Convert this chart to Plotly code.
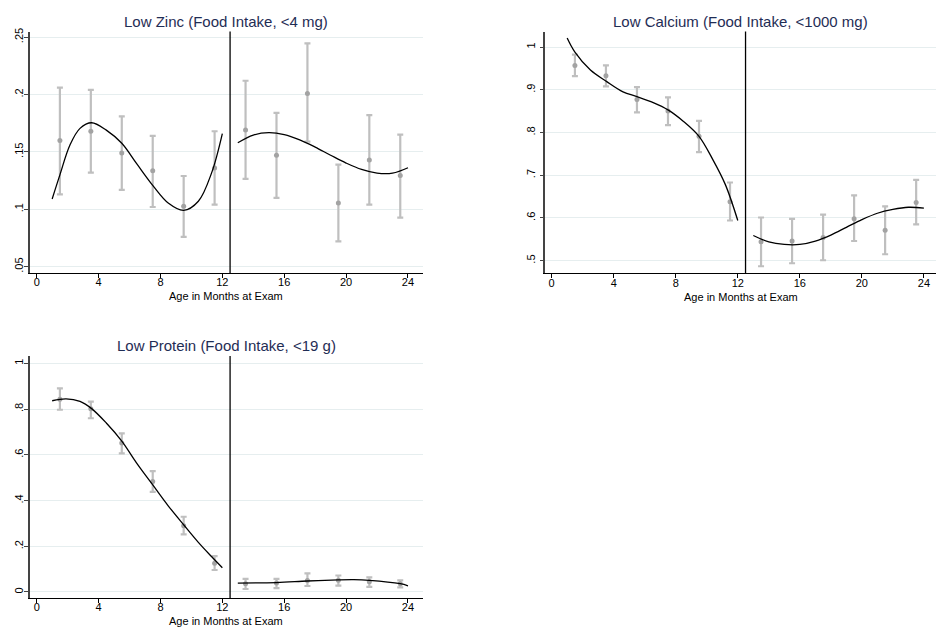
import plotly.graph_objects as go

# ---------------- data ----------------
months = [1.5, 3.5, 5.5, 7.5, 9.5, 11.5, 13.5, 15.5, 17.5, 19.5, 21.5, 23.5]

zinc_mean = [0.160, 0.168, 0.149, 0.1335, 0.1026, 0.136, 0.169, 0.147, 0.201, 0.1055, 0.143, 0.1295]
zinc_lo = [0.113, 0.132, 0.117, 0.102, 0.076, 0.104, 0.1265, 0.110, 0.159, 0.072, 0.104, 0.0927]
zinc_hi = [0.206, 0.204, 0.181, 0.164, 0.129, 0.168, 0.212, 0.184, 0.2445, 0.139, 0.182, 0.165]

calcium_mean = [0.957, 0.9326, 0.877, 0.850, 0.791, 0.638, 0.544, 0.546, 0.554, 0.598, 0.571, 0.636]
calcium_lo = [0.932, 0.908, 0.847, 0.817, 0.754, 0.594, 0.487, 0.494, 0.501, 0.546, 0.515, 0.585]
calcium_hi = [0.982, 0.957, 0.906, 0.882, 0.827, 0.683, 0.601, 0.598, 0.608, 0.653, 0.627, 0.689]

protein_mean = [0.843, 0.802, 0.652, 0.483, 0.290, 0.126, 0.036, 0.039, 0.050, 0.051, 0.045, 0.036]
protein_lo = [0.797, 0.760, 0.606, 0.438, 0.252, 0.096, 0.013, 0.017, 0.026, 0.028, 0.022, 0.020]
protein_hi = [0.891, 0.833, 0.694, 0.529, 0.329, 0.157, 0.057, 0.057, 0.081, 0.072, 0.064, 0.051]

# fitted curves, before and after 12.5 months
zinc_fit1_x = [1.0, 1.5, 2.15, 2.8, 3.55, 4.5, 5.5, 6.45, 7.55, 8.5, 9.5, 10.45, 11.3, 12.0]
zinc_fit1_y = [0.109, 0.130, 0.156, 0.1705, 0.1754, 0.169, 0.1575, 0.140, 0.120, 0.1055, 0.0991, 0.107, 0.1315, 0.166]
zinc_fit2_x = [13, 14, 15, 16, 17, 18, 19, 20, 21, 22, 23, 24]
zinc_fit2_y = [0.158, 0.1647, 0.1668, 0.1651, 0.1605, 0.1542, 0.1471, 0.1403, 0.1347, 0.1315, 0.1315, 0.1362]

calcium_fit1_x = [1.0, 1.5, 2.5, 3.55, 4.6, 5.5, 6.55, 7.5, 8.5, 9.5, 10.4, 11.2, 12.0]
calcium_fit1_y = [1.021, 0.988, 0.946, 0.919, 0.895, 0.884, 0.870, 0.853, 0.826, 0.791, 0.736, 0.678, 0.594]
calcium_fit2_x = [13, 14, 15, 16, 17, 18, 19, 20, 21, 22, 23, 24]
calcium_fit2_y = [0.559, 0.544, 0.538, 0.538, 0.546, 0.560, 0.578, 0.596, 0.611, 0.620, 0.625, 0.623]

protein_fit1_x = [1.0, 1.9, 2.8, 3.55, 4.5, 5.5, 6.45, 7.55, 8.5, 9.5, 10.45, 11.3, 12.0]
protein_fit1_y = [0.8365, 0.845, 0.8335, 0.802, 0.739, 0.660, 0.565, 0.464, 0.377, 0.294, 0.217, 0.155, 0.106]
protein_fit2_x = [13.0, 15.5, 17.5, 19.5, 20.5, 21.5, 23.5, 24.0]
protein_fit2_y = [0.039, 0.041, 0.048, 0.053, 0.054, 0.051, 0.036, 0.027]

titles = ["Low Zinc (Food Intake, <4 mg)",
          "Low Calcium (Food Intake, <1000 mg)",
          "Low Protein (Food Intake, <19 g)"]
x_title = "Age in Months at Exam"
x_ticks = [0, 4, 8, 12, 16, 20, 24]
cutoff = 12.5

zinc_yticks = [0.05, 0.10, 0.15, 0.20, 0.25]
zinc_ytext = [".05", ".1", ".15", ".2", ".25"]
calcium_yticks = [0.5, 0.6, 0.7, 0.8, 0.9, 1.0]
calcium_ytext = [".5", ".6", ".7", ".8", ".9", "1"]
protein_yticks = [0.0, 0.2, 0.4, 0.6, 0.8, 1.0]
protein_ytext = ["0", ".2", ".4", ".6", ".8", "1"]

# ---------------- styling ----------------
W, H = 936, 631
FONT = "Liberation Sans, Arial, sans-serif"
TITLE_COL = "#1f2d55"
BAR_COL = "#bfbfbf"
DOT_COL = "#a3a3a3"
GRID_COL = "#e6eeef"

panels = [
    dict(mean=zinc_mean, lo=zinc_lo, hi=zinc_hi,
         f1=(zinc_fit1_x, zinc_fit1_y), f2=(zinc_fit2_x, zinc_fit2_y),
         yt=zinc_yticks, ytt=zinc_ytext, ystand=-4,
         px=(29.5, 423.0), py=(27.7, 270.7), xr=[-0.465, 24.97], yr=[0.0445, 0.2549],
         title=titles[0]),
    dict(mean=calcium_mean, lo=calcium_lo, hi=calcium_hi,
         f1=(calcium_fit1_x, calcium_fit1_y), f2=(calcium_fit2_x, calcium_fit2_y),
         yt=calcium_yticks, ytt=calcium_ytext, ystand=0,
         px=(545.3, 936.0), py=(27.7, 271.0), xr=[-0.41, 24.78], yr=[0.4705, 1.0363],
         title=titles[1]),
    dict(mean=protein_mean, lo=protein_lo, hi=protein_hi,
         f1=(protein_fit1_x, protein_fit1_y), f2=(protein_fit2_x, protein_fit2_y),
         yt=protein_yticks, ytt=protein_ytext, ystand=-4,
         px=(29.5, 423.0), py=(354.3, 597.7), xr=[-0.465, 24.97], yr=[-0.026, 1.032],
         title=titles[2]),
]

fig = go.Figure()
annotations = []
shapes = []

for i, p in enumerate(panels, start=1):
    xa = "x" if i == 1 else f"x{i}"
    ya = "y" if i == 1 else f"y{i}"
    plus = [h - m for h, m in zip(p["hi"], p["mean"])]
    minus = [m - l for m, l in zip(p["mean"], p["lo"])]
    fig.add_trace(go.Scatter(
        x=months, y=p["mean"], mode="markers", xaxis=xa, yaxis=ya,
        marker=dict(color=DOT_COL, size=5),
        error_y=dict(type="data", symmetric=False, array=plus, arrayminus=minus,
                     color=BAR_COL, thickness=2.2, width=3),
        showlegend=False, hoverinfo="skip"))
    for fx, fy in (p["f1"], p["f2"]):
        fig.add_trace(go.Scatter(
            x=fx, y=fy, mode="lines", xaxis=xa, yaxis=ya,
            line=dict(color="black", width=1.3, shape="spline", smoothing=1.0),
            showlegend=False, hoverinfo="skip"))

    dx = [p["px"][0] / W, p["px"][1] / W]
    dy = [1 - p["py"][1] / H, 1 - p["py"][0] / H]
    xkey = "xaxis" if i == 1 else f"xaxis{i}"
    ykey = "yaxis" if i == 1 else f"yaxis{i}"
    fig.update_layout(**{
        xkey: dict(domain=dx, range=p["xr"], anchor=ya, tickvals=x_ticks,
                   ticks="outside", ticklen=4, tickwidth=1, tickcolor="black",
                   ticklabelstandoff=-5,
                   showline=True, linecolor="black", linewidth=1.2,
                   showgrid=False, zeroline=False,
                   tickfont=dict(family=FONT, size=11, color="black")),
        ykey: dict(domain=dy, range=p["yr"], anchor=xa, tickvals=p["yt"], ticktext=p["ytt"],
                   tickangle=-90, ticks="outside", ticklen=4, tickwidth=1, tickcolor="#444",
                   ticklabelstandoff=p["ystand"],
                   showline=True, linecolor="#444", linewidth=1.5,
                   showgrid=True, gridcolor=GRID_COL, gridwidth=1, zeroline=False,
                   tickfont=dict(family=FONT, size=11, color="black")),
    })
    # cutoff line
    shapes.append(dict(type="line", xref=xa, yref=f"{ya} domain", x0=cutoff, x1=cutoff,
                       y0=0, y1=1, line=dict(color="black", width=1.3)))
    cx = (p["px"][0] + p["px"][1]) / 2 / W
    annotations.append(dict(text=p["title"], x=cx, y=1 - (p["py"][0] - 10.5) / H,
                            xref="paper", yref="paper", showarrow=False,
                            xanchor="center", yanchor="middle",
                            font=dict(family=FONT, size=15, color=TITLE_COL)))
    annotations.append(dict(text=x_title, x=cx, y=1 - (p["py"][1] + 23.5) / H,
                            xref="paper", yref="paper", showarrow=False,
                            xanchor="center", yanchor="middle",
                            font=dict(family=FONT, size=11, color="black")))

fig.update_layout(width=W, height=H, margin=dict(l=0, r=0, t=0, b=0),
                  paper_bgcolor="white", plot_bgcolor="white",
                  annotations=annotations, shapes=shapes)

fig.write_html("out.html")
